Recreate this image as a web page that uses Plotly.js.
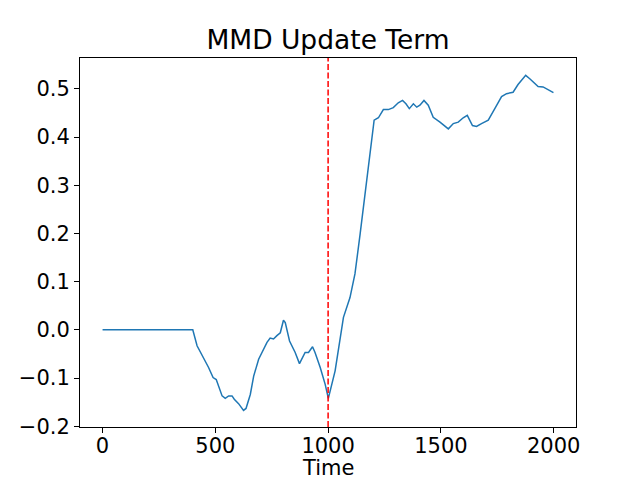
<!DOCTYPE html>
<html>
<head>
<meta charset="utf-8">
<script src="https://cdn.plot.ly/plotly-3.0.1.min.js"></script>
<style>html,body{margin:0;padding:0;background:#fff;}#chart{width:640px;height:480px;}</style>
</head>
<body>
<div id="chart"></div>
<script>
const timeSteps = [0, 400, 419, 470, 490, 504, 530, 544, 559, 574, 584, 603, 625, 636, 655, 670, 692, 714, 729, 743, 758, 773, 788, 802, 810, 829, 854, 873, 888, 898, 913, 931, 942, 965, 987, 1001, 1031, 1068, 1097, 1119, 1142, 1164, 1186, 1204, 1223, 1245, 1267, 1289, 1311, 1330, 1345, 1360, 1378, 1393, 1407, 1425, 1444, 1466, 1496, 1533, 1555, 1577, 1599, 1617, 1640, 1658, 1680, 1710, 1739, 1769, 1791, 1820, 1842, 1861, 1876, 1894, 1916, 1931, 1953, 1975, 1999];
const mmdTerm = [0, 0, -0.033, -0.078, -0.099, -0.103, -0.137, -0.142, -0.137, -0.137, -0.144, -0.153, -0.167, -0.163, -0.134, -0.096, -0.061, -0.040, -0.026, -0.017, -0.019, -0.012, -0.006, 0.020, 0.015, -0.023, -0.047, -0.070, -0.058, -0.047, -0.047, -0.035, -0.047, -0.078, -0.113, -0.142, -0.085, 0.026, 0.067, 0.116, 0.199, 0.282, 0.365, 0.435, 0.440, 0.457, 0.457, 0.461, 0.471, 0.476, 0.469, 0.459, 0.469, 0.462, 0.466, 0.476, 0.466, 0.441, 0.431, 0.417, 0.428, 0.431, 0.440, 0.445, 0.424, 0.422, 0.428, 0.435, 0.459, 0.484, 0.490, 0.493, 0.509, 0.521, 0.528, 0.521, 0.512, 0.505, 0.504, 0.498, 0.492];
const changePoint = 1000;
const xTicks = [0, 500, 1000, 1500, 2000];
const yTicks = [-0.2, -0.1, 0.0, 0.1, 0.2, 0.3, 0.4, 0.5];

const font = {family: 'DejaVu Sans, sans-serif', color: '#000'};
const axisCommon = {
  showgrid: false, zeroline: false, showline: true, mirror: true,
  linecolor: '#000', linewidth: 1, ticks: 'outside', ticklen: 5, tickwidth: 1, tickcolor: '#000',
  tickfont: Object.assign({size: 21}, font)
};
Plotly.newPlot('chart', [{
  x: timeSteps, y: mmdTerm, type: 'scatter', mode: 'lines',
  line: {color: '#1f77b4', width: 1.5}
}], {
  width: 640, height: 480,
  paper_bgcolor: '#fff', plot_bgcolor: '#fff',
  margin: {l: 80, r: 64, t: 58, b: 53},
  showlegend: false,
  title: {text: 'MMD Update Term', font: Object.assign({size: 26.5}, font), x: 0.5, xref: 'paper', xanchor: 'center', y: 1 - 40/480, yref: 'container', yanchor: 'middle'},
  xaxis: Object.assign({}, axisCommon, {range: [-100, 2099], tickvals: xTicks, ticktext: xTicks.map(String), ticklabelstandoff: -5}),
  yaxis: Object.assign({}, axisCommon, {range: [-0.2015, 0.564], tickvals: yTicks, tickformat: '.1f'}),
  annotations: [{text: 'Time', xref: 'paper', yref: 'paper', x: 0.5, y: -0.1098, xanchor: 'center', yanchor: 'middle',
    showarrow: false, font: Object.assign({size: 21}, font)}],
  shapes: [{type: 'line', xref: 'x', yref: 'paper', x0: changePoint, x1: changePoint, y0: 0, y1: 1,
    line: {color: 'red', width: 1.5, dash: '6px,2.5px'}, layer: 'above'}]
}, {staticPlot: true, displayModeBar: false});
</script>
</body>
</html>
